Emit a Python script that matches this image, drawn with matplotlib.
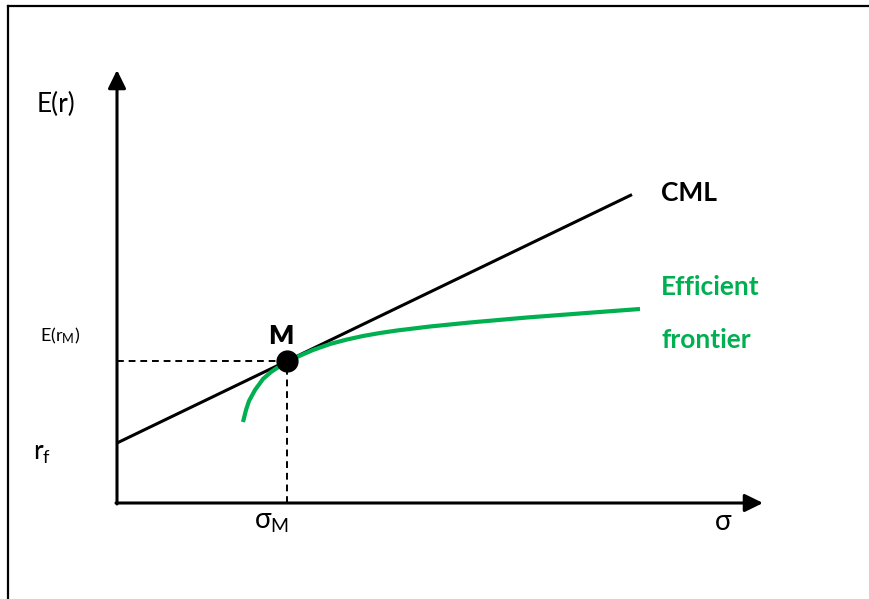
import matplotlib
matplotlib.use('Agg')
import matplotlib.pyplot as plt
from matplotlib.lines import Line2D

# chart values (pixel-like units, origin at the axes corner)
rf = 60
sigma_m, er_m = 170, 142
cml_end = 515
axis_top = 433
axis_right = 646

frontier_x = [126, 129, 132, 138, 146, 154, 160, 170, 180, 196, 213, 230, 246, 263, 280, 313, 353, 410, 476, 523]
frontier_y = [81, 93, 102, 113, 124, 131, 135, 141, 146, 153, 159, 163.5, 167, 170, 172.5, 176.5, 180.5, 185.5, 190.5, 194]

green = '#00B050'
plt.rcParams['font.family'] = ['Lato', 'DejaVu Sans']
plt.rcParams['mathtext.default'] = 'regular'

fig = plt.figure(figsize=(8.69, 5.99), dpi=100)
ax = fig.add_axes([0, 0, 1, 1])
ax.set_xlim(-117, 752)
ax.set_ylim(-96, 503)
ax.axis('off')

# outer frame (top and left edges only visible)
fig.add_artist(Line2D([8 / 869, 8 / 869], [-0.1, 1 - 6 / 599], color='black', lw=1.6, transform=fig.transFigure))
fig.add_artist(Line2D([8 / 869, 1.1], [1 - 6 / 599, 1 - 6 / 599], color='black', lw=1.6, transform=fig.transFigure))

# axes with arrows
arrow = dict(arrowstyle='-|>,head_length=0.55,head_width=0.27', color='black', lw=2.2,
             mutation_scale=20, shrinkA=0, shrinkB=0)
ax.annotate('', xy=(0, axis_top), xytext=(0, -1), arrowprops=arrow)
ax.annotate('', xy=(axis_right, 0), xytext=(-1, 0), arrowprops=arrow)

# dashed guides to M
ax.plot([0, sigma_m], [er_m, er_m], ls=(0, (3.5, 2.5)), color='black', lw=1.4)
ax.plot([sigma_m, sigma_m], [0, er_m], ls=(0, (3.5, 2.5)), color='black', lw=1.4)

# capital market line
slope = (er_m - rf) / sigma_m
ax.plot([0, cml_end], [rf, rf + slope * cml_end], color='black', lw=2.2, solid_capstyle='butt')

# efficient frontier
ax.plot(frontier_x, frontier_y, color=green, lw=3.0, solid_capstyle='butt', solid_joinstyle='round')

# market portfolio
ax.plot(sigma_m, er_m, 'o', color='black', markersize=15, zorder=5)

# labels
ax.text(-80, 399, 'E(r)', fontsize=19, ha='left', va='center')
ax.text(-77, 167, r'$E(r_M)$', fontsize=13, ha='left', va='center')
ax.text(-84, 50, r'$r_f$', fontsize=19, ha='left', va='center')
ax.text(164, 167, 'M', fontsize=19, fontweight='heavy', ha='center', va='center')
ax.text(137, -19, r'$\sigma_M$', fontsize=20, ha='left', va='center')
ax.text(606, -19, r'$\sigma$', fontsize=20, ha='center', va='center')
ax.text(544, 310, 'CML', fontsize=19, fontweight='bold', ha='left', va='center')
ax.text(544, 216, 'Efficient', fontsize=19, fontweight='bold', color=green, ha='left', va='center')
ax.text(544, 163, 'frontier', fontsize=19, fontweight='bold', color=green, ha='left', va='center')

fig.savefig('out.png', dpi=100)
